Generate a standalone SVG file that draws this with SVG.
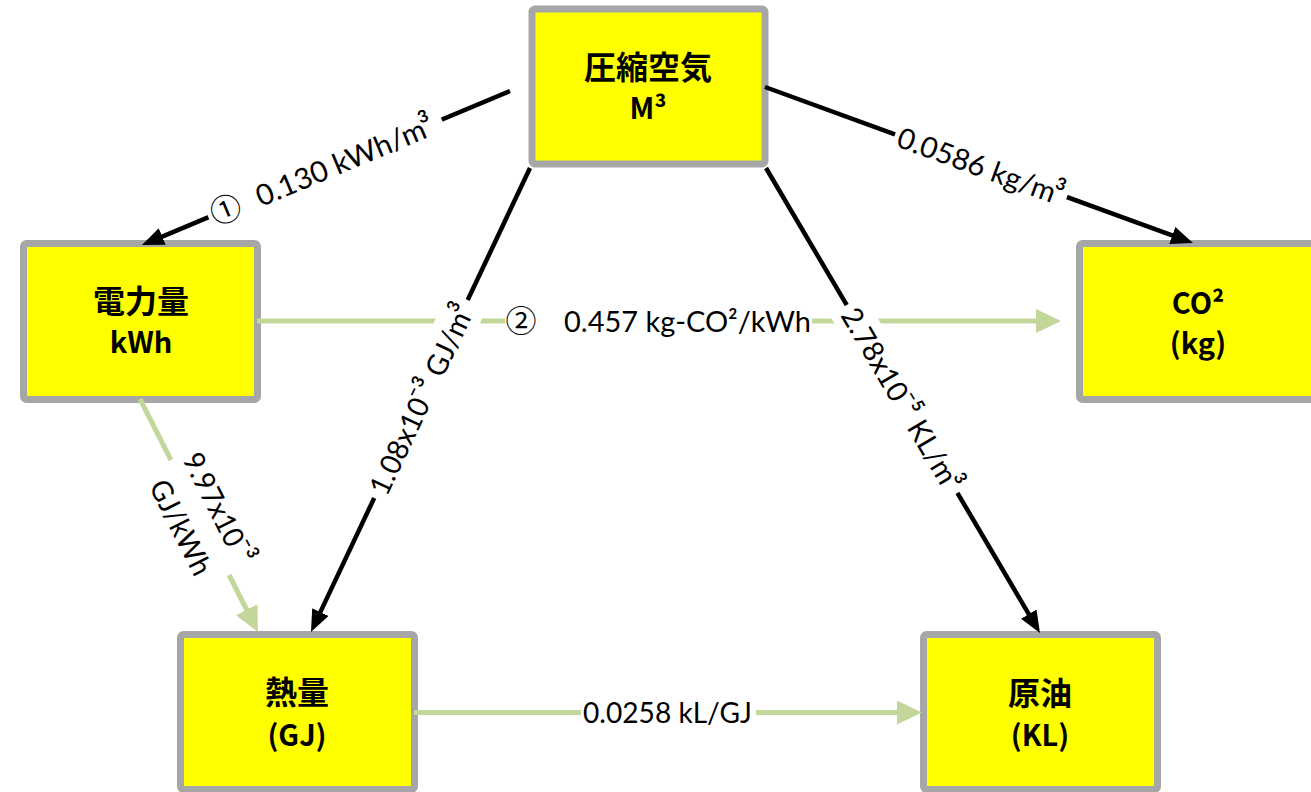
<svg xmlns="http://www.w3.org/2000/svg" width="1311" height="792" viewBox="0 0 1311 792">
<style>
.box rect{fill:#FFFF00;stroke:#A6A6A6;stroke-width:7}
.bt{font-family:"Noto Sans CJK JP","Noto Sans",sans-serif;font-weight:700;fill:#000;text-anchor:middle}
.cj{font-size:32px}
.lt{font-size:29px}
.blk{stroke:#000;stroke-width:4.5;fill:none}
.grn{stroke:#C4D79B;stroke-width:5;fill:none}
.lbl{font-family:Lato,"Noto Sans","DejaVu Sans",sans-serif;font-size:29px;fill:#000}
.sup{font-size:34px}
.num{font-family:"Noto Sans CJK JP",sans-serif;font-size:31px;fill:#000;text-anchor:middle}
.bg{fill:#fff}
</style>
<defs>
<marker id="ab" markerUnits="userSpaceOnUse" viewBox="0 0 22 18" refX="2" refY="9" markerWidth="22" markerHeight="18" orient="auto"><path d="M0,0L22,9L0,18z" fill="#000"/></marker>
<marker id="ag" markerUnits="userSpaceOnUse" viewBox="0 0 25 24" refX="2" refY="12" markerWidth="25" markerHeight="24" orient="auto"><path d="M0,0L25,12L0,24z" fill="#C4D79B"/></marker>
</defs>
<g id="node-air" class="box"><rect x="532" y="9" width="233" height="155" rx="3"/><text class="bt cj" x="648" y="79">圧縮空気</text><text class="bt lt" x="648" y="119">M³</text></g>
<g id="node-power" class="box"><rect x="23.5" y="243.5" width="234" height="156" rx="3"/><text class="bt cj" x="141" y="313">電力量</text><text class="bt lt" x="141" y="353">kWh</text></g>
<g id="node-co2" class="box"><rect x="1079.5" y="243.5" width="236" height="156" rx="3"/><text class="bt lt" x="1198" y="314">CO²</text><text class="bt lt" x="1198" y="354">(kg)</text></g>
<g id="node-heat" class="box"><rect x="180.5" y="634.5" width="234" height="155" rx="3"/><text class="bt cj" x="297" y="704">熱量</text><text class="bt lt" x="297" y="746">(GJ)</text></g>
<g id="node-oil" class="box"><rect x="923.5" y="634.5" width="234" height="155" rx="3"/><text class="bt cj" x="1040" y="705">原油</text><text class="bt lt" x="1040" y="746">(KL)</text></g>
<g id="connectors">
<path class="blk" d="M510,91L160.4,237.3" marker-end="url(#ab)"/>
<path class="blk" d="M765,87L1174.2,236.2" marker-end="url(#ab)"/>
<path class="blk" d="M530,168L319.5,613.9" marker-end="url(#ab)"/>
<path class="blk" d="M766,168L1029.8,615.8" marker-end="url(#ab)"/>
<path class="grn" d="M257,321L1038,321" marker-end="url(#ag)"/>
<path class="grn" d="M140,399L247.6,611.5" marker-end="url(#ag)"/>
<path class="grn" d="M414,712.5L899,712.5" marker-end="url(#ag)"/>
<g id="label-a" transform="translate(325.1,168.4) rotate(-22.7)"><rect class="bg" x="-126.5" y="-20" width="253" height="40"/><text class="num" x="-107.5" y="11">①</text><text class="lbl" x="-74" y="11" textLength="190" lengthAdjust="spacingAndGlyphs">0.130 kWh/m<tspan class="sup" dx="-3">³</tspan></text></g>
<g id="label-b" transform="translate(981,165.7) rotate(20.03)"><rect class="bg" x="-91.5" y="-20" width="183" height="40"/><text class="lbl" x="0" y="11" text-anchor="middle" textLength="175" lengthAdjust="spacingAndGlyphs">0.0586 kg/m<tspan class="sup" dx="-3">³</tspan></text></g>
<g id="label-c" transform="translate(421,399) rotate(-64.74)"><rect class="bg" x="-109.5" y="-21" width="219" height="42"/><text class="lbl" x="0" y="11" text-anchor="middle" textLength="207" lengthAdjust="spacingAndGlyphs">1.08x10<tspan class="sup" dx="-2">⁻³</tspan> GJ/m<tspan class="sup" dx="-3">³</tspan></text></g>
<g id="label-d" transform="translate(902.1,398.9) rotate(59.49)"><rect class="bg" x="-109" y="-20" width="218" height="40"/><text class="lbl" x="0" y="11" text-anchor="middle" textLength="207" lengthAdjust="spacingAndGlyphs">2.78x10<tspan class="sup" dx="-2">⁻⁵</tspan> KL/m<tspan class="sup" dx="-3">³</tspan></text></g>
<g id="label-e"><rect class="bg" x="505" y="301" width="307" height="40"/><text class="num" x="521" y="332">②</text><text class="lbl" x="564" y="332" textLength="247" lengthAdjust="spacingAndGlyphs">0.457 kg-CO²/kWh</text></g>
<g id="label-f" transform="translate(200.2,517.5) rotate(63.24)"><rect class="bg" x="-64.5" y="-40" width="129" height="80"/><text class="lbl" x="0" y="-10" text-anchor="middle" textLength="121" lengthAdjust="spacingAndGlyphs">9.97x10<tspan class="sup" dx="-2">⁻³</tspan></text><text class="lbl" x="0" y="32" text-anchor="middle" textLength="103" lengthAdjust="spacingAndGlyphs">GJ/kWh</text></g>
<g id="label-g"><rect class="bg" x="581" y="692" width="175" height="40"/><text class="lbl" x="583" y="723" textLength="169" lengthAdjust="spacingAndGlyphs">0.0258 kL/GJ</text></g>
</g>
</svg>
